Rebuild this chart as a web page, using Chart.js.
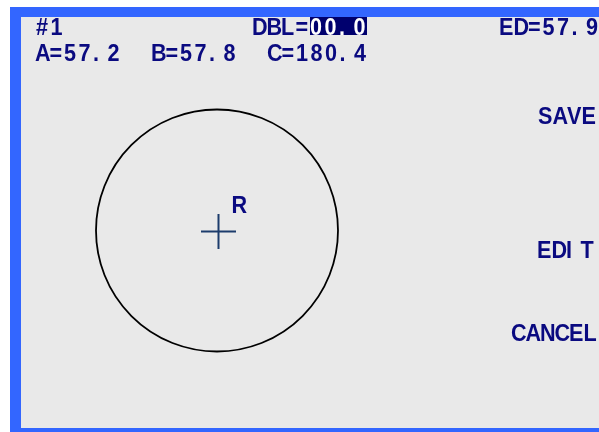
<!DOCTYPE html>
<html lang="en">
<head>
  <meta charset="UTF-8">
  <title>Measure screen</title>
  <script src="https://cdn.jsdelivr.net/npm/chart.js"></script>
  <style>
    html, body { margin: 0; padding: 0; background: #ffffff; }
    canvas { display: block; }
  </style>
</head>
<body>
  <canvas id="tela" width="599" height="432"></canvas>
<script>
  // values shown on the screen
  const fieldNames = ['A', 'B', 'C'];
  const fieldValues = ['57.2', '57.8', '180.4'];
  const pageLabel = '#1';
  const dblValue = '00.0';
  const edValue = '57.9';
  const menuItems = ['SAVE', 'EDIT', 'CANCEL'];

  // measured circle and its reference point (screen units)
  const circleX = [217];
  const circleY = [230.5];
  const crossX = [218.5];
  const crossY = [231.5];
  const markLabel = 'R';

  const navy = '#0a0a80';
  const cell = 14.5;
  const squeeze = 0.9; // condensed look of the device font
  const fonte = 'bold 24px "Liberation Sans", Arial, sans-serif';

  // draws text in fixed cells like the device screen does
  function textoGrade(ctx, txt, x, y) {
    for (let i = 0; i < txt.length; i++) {
      ctx.save();
      ctx.translate(x + i * cell, y);
      ctx.scale(squeeze, 1);
      ctx.fillText(txt[i], 0, 0);
      ctx.restore();
    }
  }

  const fundo = {
    id: 'fundo',
    beforeDraw(chart) {
      const ctx = chart.ctx;
      ctx.save();
      ctx.fillStyle = '#ffffff';
      ctx.fillRect(0, 0, chart.width, chart.height);
      ctx.fillStyle = '#3366ff';
      ctx.fillRect(10, 7, chart.width - 10, chart.height - 7);
      ctx.fillStyle = '#e9e9e9';
      ctx.fillRect(21, 17, chart.width - 21, 411);
      ctx.restore();
    }
  };

  const textos = {
    id: 'textos',
    afterDraw(chart) {
      const ctx = chart.ctx;
      const sx = chart.scales.x, sy = chart.scales.y;
      ctx.save();
      ctx.font = fonte;
      ctx.textBaseline = 'alphabetic';
      ctx.textAlign = 'left';

      // highlight box for DBL value
      ctx.fillStyle = '#00006e';
      ctx.fillRect(310, 17, 57, 18);

      ctx.fillStyle = navy;
      textoGrade(ctx, pageLabel, 36, 35);
      textoGrade(ctx, 'DBL=', 252, 35);
      textoGrade(ctx, 'ED=' + edValue, 499, 35);
      ctx.fillStyle = '#ffffff';
      textoGrade(ctx, dblValue, 310, 35);

      ctx.fillStyle = navy;
      fieldNames.forEach((n, i) => {
        textoGrade(ctx, n + '=' + fieldValues[i], 35 + i * 8 * cell, 61);
      });

      const menuX = [538, 537, 511];
      const menuY = [124, 258, 341];
      menuItems.forEach((m, i) => textoGrade(ctx, m, menuX[i], menuY[i]));

      // label next to the reference point
      textoGrade(ctx, markLabel, sx.getPixelForValue(crossX[0]) + 13, sy.getPixelForValue(crossY[0]) - 19);
      ctx.restore();
    }
  };

  new Chart(document.getElementById('tela'), {
    type: 'scatter',
    data: {
      datasets: [{
        label: 'circle',
        data: circleX.map((x, i) => ({ x: x, y: circleY[i] })),
        pointStyle: 'circle',
        pointRadius: 121,
        pointBorderWidth: 1.8,
        pointBorderColor: '#000000',
        pointBackgroundColor: 'rgba(0,0,0,0)',
        clip: false
      }, {
        label: 'R',
        data: crossX.map((x, i) => ({ x: x, y: crossY[i] })),
        pointStyle: 'cross',
        pointRadius: 17.5,
        pointBorderWidth: 2,
        pointBorderColor: '#1c3c6c',
        clip: false
      }]
    },
    options: {
      responsive: false,
      animation: false,
      events: [],
      layout: { padding: 0, autoPadding: false },
      scales: {
        x: { type: 'linear', min: 0, max: 599, display: false },
        y: { type: 'linear', min: 0, max: 432, reverse: true, display: false }
      },
      plugins: {
        legend: { display: false },
        tooltip: { enabled: false }
      }
    },
    plugins: [fundo, textos]
  });
</script>
</body>
</html>
